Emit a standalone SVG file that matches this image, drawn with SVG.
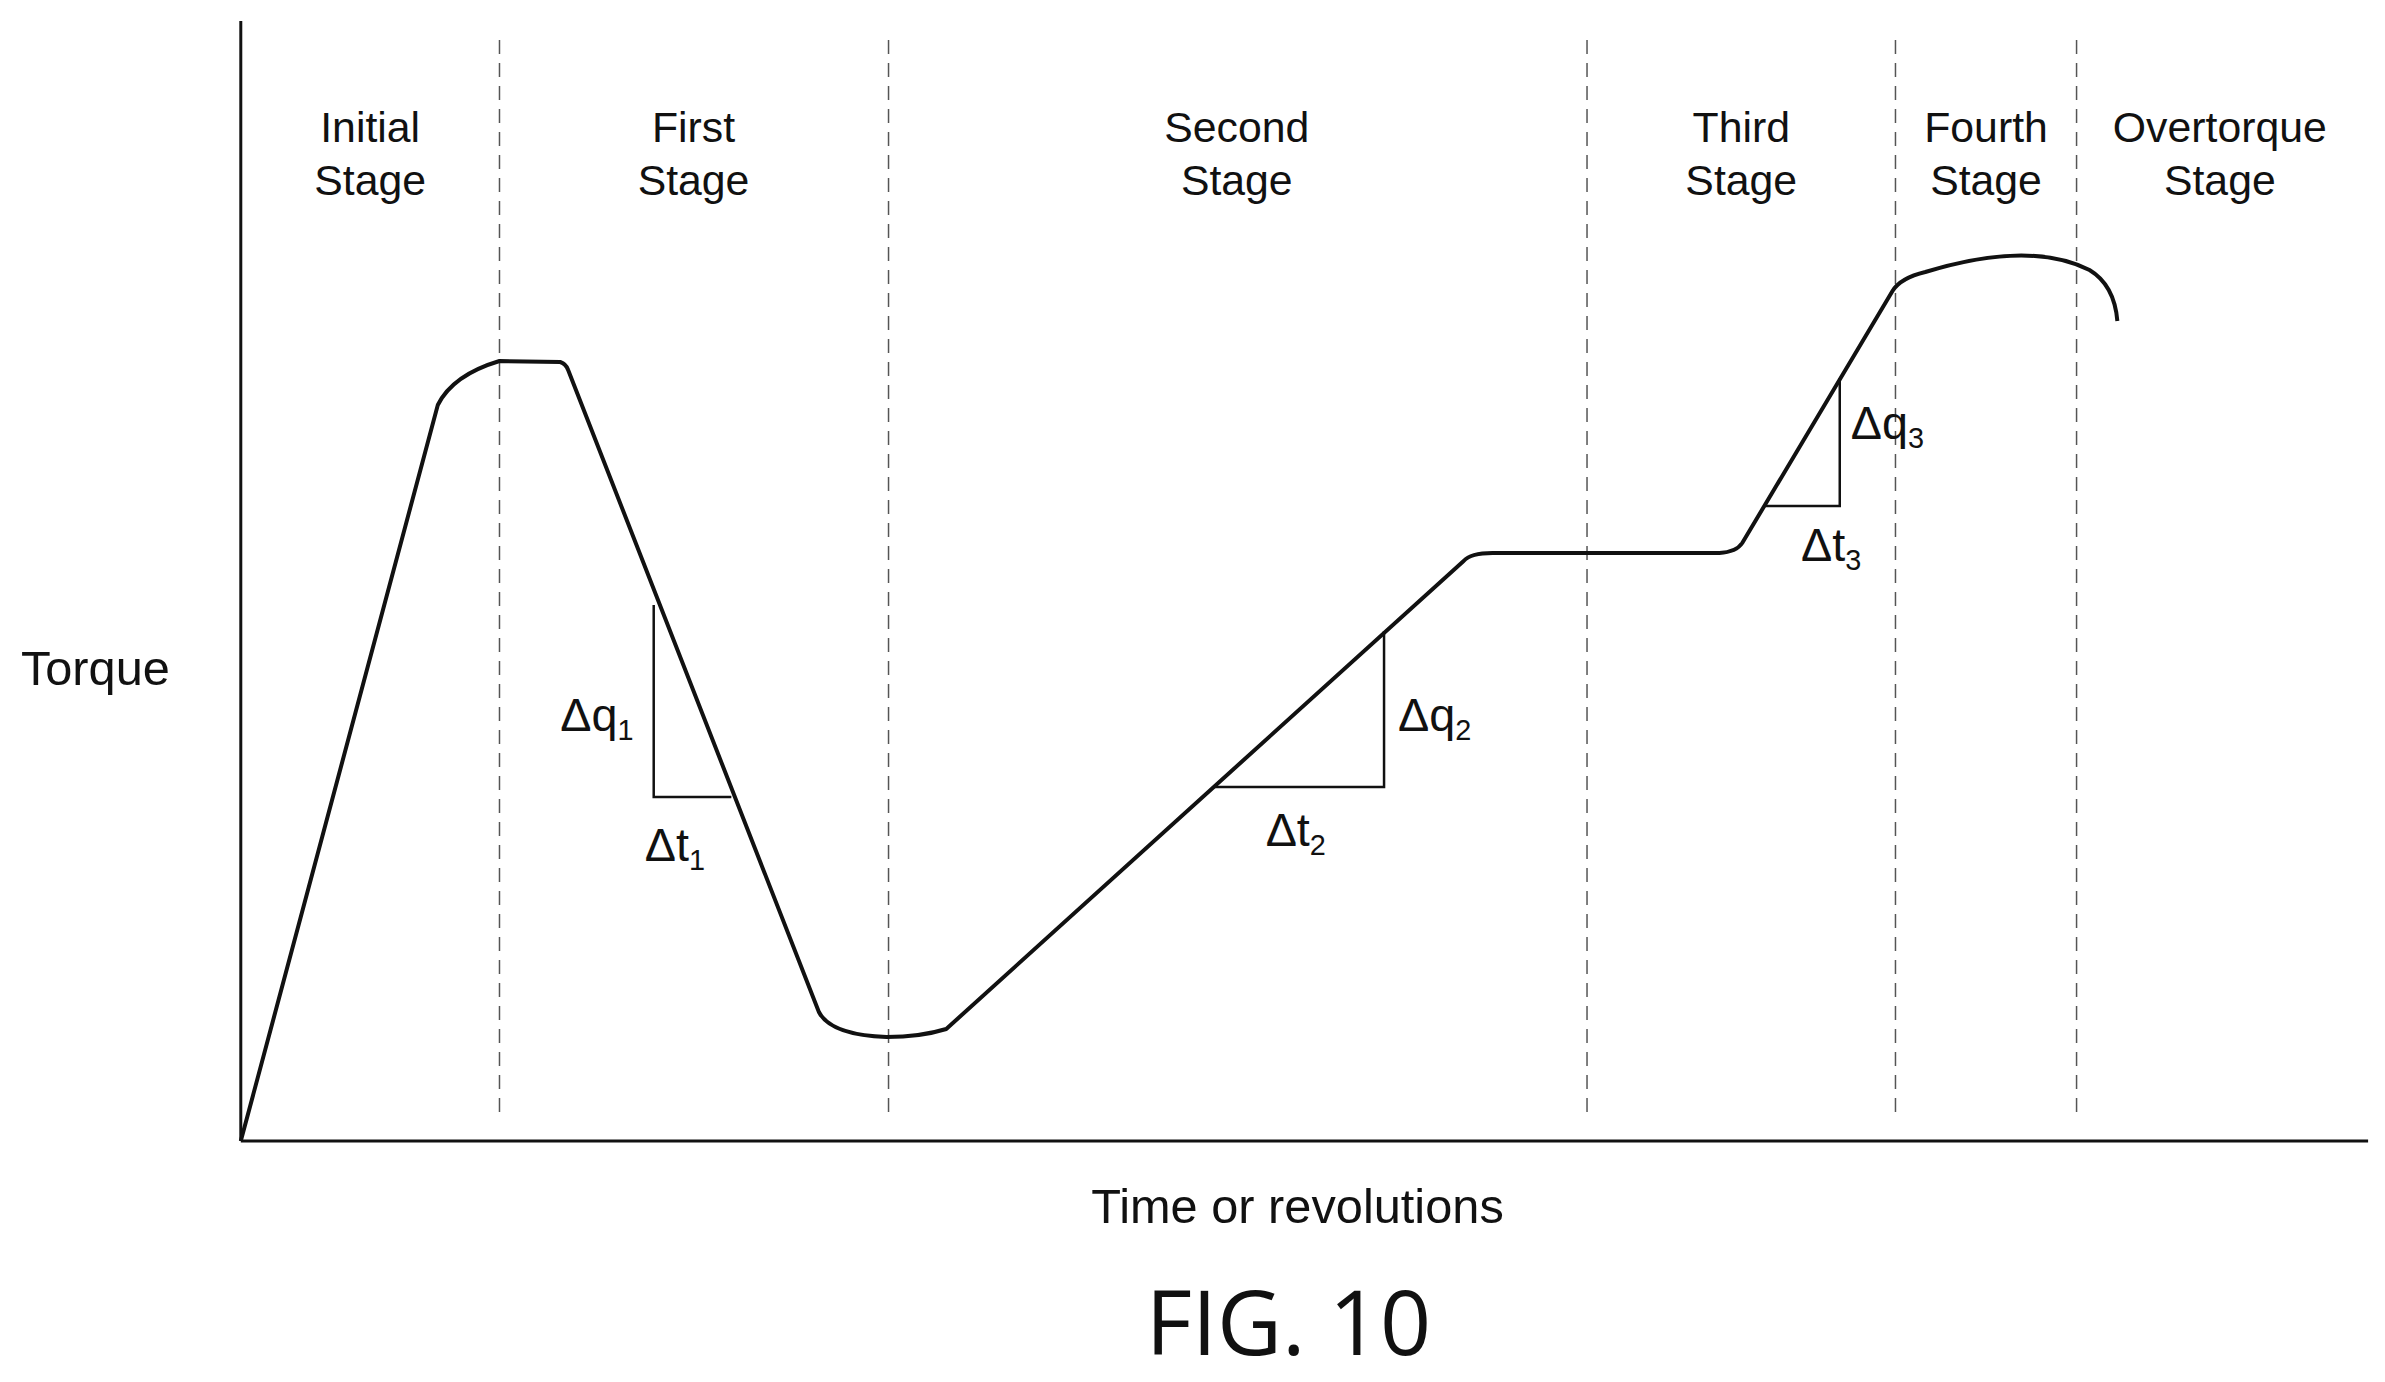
<svg xmlns="http://www.w3.org/2000/svg" width="2385" height="1382" viewBox="0 0 2385 1382">
<style>
text{font-family:"Liberation Sans",Arial,sans-serif;font-size:43px;fill:#111}
.c{text-anchor:middle}
.d{stroke:#555;stroke-width:1.5;stroke-dasharray:14 9;fill:none}
.m{font-size:47px}
.s{font-size:29px}
</style>
<rect width="2385" height="1382" fill="#fff"/>
<g transform="scale(0.995,1)">
<g id="axes" stroke="#111" stroke-width="3" fill="none">
<line x1="242" y1="21" x2="242" y2="1141"/>
<line x1="242" y1="1141" x2="2380" y2="1141"/>
</g>
<g id="dividers">
<line class="d" x1="502" y1="40" x2="502" y2="1116"/>
<line class="d" x1="893" y1="40" x2="893" y2="1116"/>
<line class="d" x1="1595" y1="40" x2="1595" y2="1116"/>
<line class="d" x1="1905" y1="40" x2="1905" y2="1116"/>
<line class="d" x1="2087" y1="40" x2="2087" y2="1116"/>
</g>
<g id="stage-labels">
<text class="c" x="372" y="142">Initial</text><text class="c" x="372" y="195">Stage</text>
<text class="c" x="697" y="142">First</text><text class="c" x="697" y="195">Stage</text>
<text class="c" x="1243" y="142">Second</text><text class="c" x="1243" y="195">Stage</text>
<text class="c" x="1750" y="142">Third</text><text class="c" x="1750" y="195">Stage</text>
<text class="c" x="1996" y="142">Fourth</text><text class="c" x="1996" y="195">Stage</text>
<text class="c" x="2231" y="142">Overtorque</text><text class="c" x="2231" y="195">Stage</text>
</g>
<g id="curve">
<path d="M242,1141 L440,405 Q455,375 502,361 L563,362 Q569,364 571,370 L823,1012 Q835,1035 891,1037 Q925,1037 951,1029 L1471,561 Q1478,553 1500,553 L1728,553 Q1745,552 1751,543 L1902,291 Q1910,278 1935,272 Q2040,240 2100,270 Q2125,285 2128,321" fill="none" stroke="#111" stroke-width="4" stroke-linejoin="round"/>
</g>
<g id="triangles" fill="none" stroke="#111" stroke-width="2.5">
<polyline points="657,605 657,797 735,797"/>
<polyline points="1220,787 1391,787 1391,631"/>
<polyline points="1774,506 1849,506 1849,378"/>
</g>
<g id="slope-labels">
<text class="m" x="563" y="731">Δq<tspan class="s" dy="9">1</tspan></text>
<text class="m" x="648" y="861">Δt<tspan class="s" dy="9">1</tspan></text>
<text class="m" x="1405" y="731">Δq<tspan class="s" dy="9">2</tspan></text>
<text class="m" x="1272" y="846">Δt<tspan class="s" dy="9">2</tspan></text>
<text class="m" x="1860" y="439">Δq<tspan class="s" dy="9">3</tspan></text>
<text class="m" x="1810" y="561">Δt<tspan class="s" dy="9">3</tspan></text>
</g>
<g id="axis-labels">
<text x="21" y="685" style="font-size:49px">Torque</text>
<text class="c" x="1304" y="1223" style="font-size:49px">Time or revolutions</text>
<text class="c" x="1295" y="1355" style="font-family:'Open Sans','Noto Sans',sans-serif;font-size:90px">FIG. 10</text>
</g>
</g>
</svg>
